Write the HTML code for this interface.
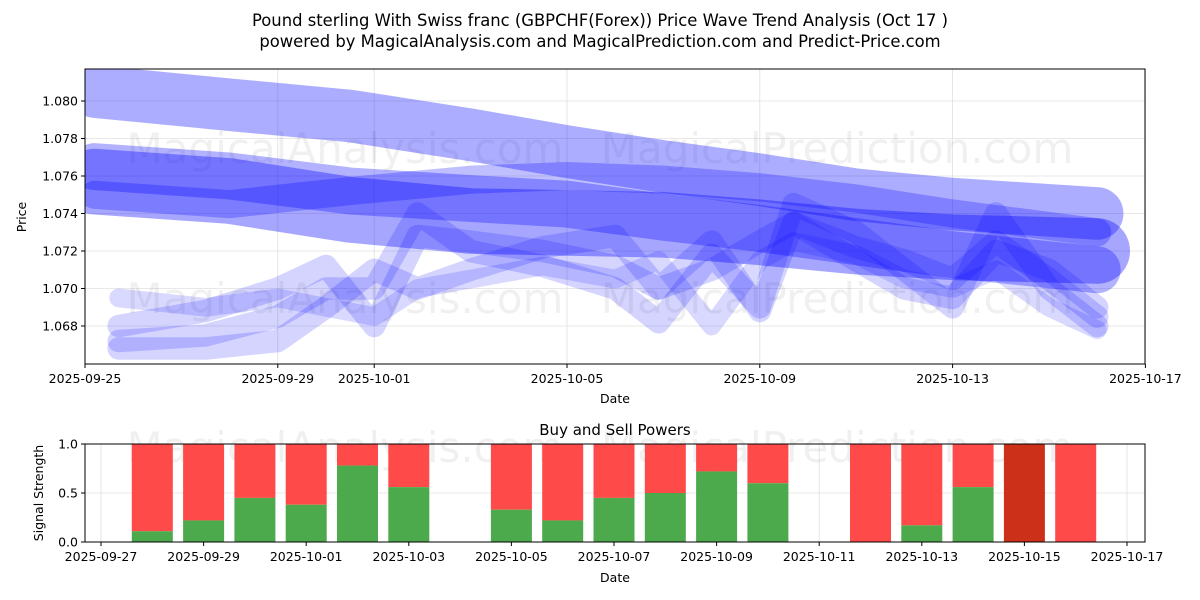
<!DOCTYPE html>
<html><head><meta charset="utf-8"><style>
html,body{margin:0;padding:0;background:#fff;}
svg{display:block;font-family:"DejaVu Sans","Liberation Sans",sans-serif;}
</style></head><body>
<svg id="chart" width="1200" height="600" viewBox="0 0 1200 600">
<rect width="1200" height="600" fill="#fff"/>
<text x="600" y="26" text-anchor="middle" font-size="16.4">Pound sterling With Swiss franc (GBPCHF(Forex)) Price Wave Trend Analysis (Oct 17 )</text>
<text x="600" y="47" text-anchor="middle" font-size="16.4">powered by MagicalAnalysis.com and MagicalPrediction.com and Predict-Price.com</text>
<g id="topg"></g>
<g id="botg"></g>
</svg>
<script>
// ---- price chart data (days since 2025-09-25) ----
const yTicks = [1.068,1.070,1.072,1.074,1.076,1.078,1.080];
const xTickDays = [0,4,6,10,14,18,22];
const xTickLabels = ["2025-09-25","2025-09-29","2025-10-01","2025-10-05","2025-10-09","2025-10-13","2025-10-17"];
const bandDays = [0.2,3,5.5,8,10,12,14,16,18,21];
const band1 = [1.0805,1.0798,1.0792,1.0782,1.0773,1.0765,1.0758,1.0750,1.0745,1.0740];
const band2 = [1.0757,1.0752,1.0742,1.0736,1.0735,1.0734,1.0730,1.0725,1.0722,1.0720];
const band3 = [1.0765,1.0760,1.0752,1.0748,1.0745,1.0738,1.0732,1.0725,1.0718,1.0710];
const band4 = [1.0750,1.0745,1.0752,1.0758,1.0760,1.0758,1.0754,1.0748,1.0740,1.0730];
const waveDays = [0.7,2.5,4,5,6,6.9,8,9.5,11,11.9,13,14,14.7,16,17,18,18.9,20,21];
const waveA = [1.0672,1.0675,1.0685,1.0700,1.0700,1.0740,1.0720,1.0712,1.0700,1.0682,1.0718,1.0690,1.0745,1.0730,1.0710,1.0690,1.0740,1.0700,1.0680];
const waveB = [1.0680,1.0688,1.0700,1.0712,1.0680,1.0728,1.0725,1.0720,1.0712,1.0700,1.0710,1.0725,1.0735,1.0715,1.0700,1.0695,1.0720,1.0710,1.0690];
const waveC = [1.0695,1.0690,1.0695,1.0690,1.0685,1.0700,1.0705,1.0712,1.0705,1.0715,1.0680,1.0715,1.0725,1.0718,1.0705,1.0700,1.0710,1.0690,1.0678];
const waveD = [1.0668,1.0668,1.0672,1.0690,1.0710,1.0700,1.0710,1.0722,1.0728,1.0700,1.0725,1.0688,1.0735,1.0722,1.0715,1.0705,1.0725,1.0705,1.0685];
// ---- signal chart data (days since 2025-09-27) ----
const barDays = [1,2,3,4,5,6,8,9,10,11,12,13,15,16,17,18,19];
const buyPower = [0.11,0.22,0.45,0.38,0.78,0.56,0.33,0.22,0.45,0.50,0.72,0.60,0,0.17,0.56,0,0];
const sellDark = [0,0,0,0,0,0,0,0,0,0,0,0,0,0,0,1,0];
const botXTickLabels = ["2025-09-27","2025-09-29","2025-10-01","2025-10-03","2025-10-05","2025-10-07","2025-10-09","2025-10-11","2025-10-13","2025-10-15","2025-10-17"];
const botYTicks = [0,0.5,1.0];

const NS="http://www.w3.org/2000/svg";
function mk(tag,attrs,parent){const e=document.createElementNS(NS,tag);for(const k in attrs)e.setAttribute(k,attrs[k]);parent.appendChild(e);return e;}
const topG=document.getElementById('topg'), botG=document.getElementById('botg');
const L=85,R=1145,T=69,B=364;
const xs=d=>85+d*48.2;
const ys=v=>326-(v-1.068)/0.002*37.5;
yTicks.forEach(v=>{
  const g=mk('line',{x1:L,x2:R,y1:ys(v),y2:ys(v),stroke:'#e0e0e0','stroke-width':0.8},topG);
  
  
  const tk=mk('line',{x1:L-4,x2:L,y1:ys(v),y2:ys(v),stroke:'#000'},topG);
  
  
  const t=mk('text',{x:L-7,y:ys(v)+4.5,'text-anchor':'end','font-size':12.5},topG);t.textContent=v.toFixed(3);
  
  
});
xTickDays.forEach((d,i)=>{
  const g=mk('line',{x1:xs(d),x2:xs(d),y1:T,y2:B,stroke:'#e0e0e0','stroke-width':0.8},topG);
  
  
  const tk=mk('line',{x1:xs(d),x2:xs(d),y1:B,y2:B+4,stroke:'#000'},topG);
  
  
  const t=mk('text',{x:xs(d),y:B+19,'text-anchor':'middle','font-size':12.5},topG);t.textContent=xTickLabels[i];
  
  
});
[["MagicalAnalysis.com",345,163],["MagicalPrediction.com",837,163],["MagicalAnalysis.com",345,313],["MagicalPrediction.com",837,313]].forEach(w=>{
  const t=mk('text',{x:w[1],y:w[2],'text-anchor':'middle','font-size':42,fill:'rgba(0,0,0,0.06)'},topG);t.textContent=w[0];
  
  
});
const clip=mk('clipPath',{id:'c1'},topG);mk('rect',{x:L,y:T,width:R-L,height:B-T},clip);
const pg=mk('g',{'clip-path':'url(#c1)'},topG);
function band(days,vals,wPrice,op,name,cap){
  const d=vals.map((v,i)=>(i?'L':'M')+xs(days[i]).toFixed(1)+' '+ys(v).toFixed(1)).join(' ');
  const p=mk('path',{d:d,fill:'none',stroke:'rgb(0,0,255)','stroke-opacity':op,'stroke-width':wPrice/0.002*37.5,'stroke-linejoin':'round','stroke-linecap':cap},pg);
  
  
}
band(bandDays,band1,0.0028,0.32,'trend-band-upper','round');
band(bandDays,band4,0.0015,0.25,'trend-band-mid','round');
band(bandDays,band2,0.0035,0.35,'trend-band-main','round');
band(bandDays,band3,0.0025,0.3,'trend-band-lower','round');
band(waveDays,waveA,0.0012,0.17,'wave-a','round');
band(waveDays,waveB,0.0012,0.17,'wave-b','round');
band(waveDays,waveC,0.0010,0.15,'wave-c','round');
band(waveDays,waveD,0.0012,0.17,'wave-d','round');
const f1=mk('rect',{x:L,y:T,width:R-L,height:B-T,fill:'none',stroke:'#000','stroke-width':1},topG);

let t1=mk('text',{x:615,y:403,'text-anchor':'middle','font-size':12.5},topG);t1.textContent='Date';

t1=mk('text',{x:0,y:0,'text-anchor':'middle','font-size':12.5,transform:'translate(26,217) rotate(-90)'},topG);t1.textContent='Price';


const bL=85,bR=1145,bT=444,bB=542;
const bx=d=>101+d*51.3;
const by=v=>bB-v*(bB-bT);
botYTicks.forEach(v=>{
  const g=mk('line',{x1:bL,x2:bR,y1:by(v),y2:by(v),stroke:'#e0e0e0','stroke-width':0.8},botG);
  
  const tk=mk('line',{x1:bL-4,x2:bL,y1:by(v),y2:by(v),stroke:'#000'},botG);
  
  const t=mk('text',{x:bL-7,y:by(v)+4.5,'text-anchor':'end','font-size':12.5},botG);t.textContent=v.toFixed(1);
  
});
botXTickLabels.forEach((lab,i)=>{
  const x=bx(i*2);
  const g=mk('line',{x1:x,x2:x,y1:bT,y2:bB,stroke:'#e0e0e0','stroke-width':0.8},botG);
  
  const tk=mk('line',{x1:x,x2:x,y1:bB,y2:bB+4,stroke:'#000'},botG);
  
  const t=mk('text',{x:x,y:bB+19,'text-anchor':'middle','font-size':12.5},botG);t.textContent=lab;
  
});
const wm1=mk('text',{x:345,y:462,'text-anchor':'middle','font-size':42,fill:'rgba(0,0,0,0.06)'},botG);wm1.textContent='MagicalAnalysis.com';

const wm2=mk('text',{x:837,y:462,'text-anchor':'middle','font-size':42,fill:'rgba(0,0,0,0.06)'},botG);wm2.textContent='MagicalPrediction.com';

barDays.forEach((d,i)=>{
  const x=bx(d)-20.5,w=41;
  const r=mk('rect',{x:x,y:by(1),width:w,height:by(buyPower[i])-by(1),fill:sellDark[i]?'#cc3018':'#ff4a4a'},botG);
  
  const g=mk('rect',{x:x,y:by(buyPower[i]),width:w,height:bB-by(buyPower[i]),fill:'#4caa4c'},botG);
  
});
const f2=mk('rect',{x:bL,y:bT,width:bR-bL,height:bB-bT,fill:'none',stroke:'#000','stroke-width':1},botG);

t1=mk('text',{x:615,y:435,'text-anchor':'middle','font-size':15},botG);t1.textContent='Buy and Sell Powers';

t1=mk('text',{x:615,y:582,'text-anchor':'middle','font-size':12.5},botG);t1.textContent='Date';

t1=mk('text',{x:0,y:0,'text-anchor':'middle','font-size':12.5,transform:'translate(43,493) rotate(-90)'},botG);t1.textContent='Signal Strength';

</script>
</body></html>
